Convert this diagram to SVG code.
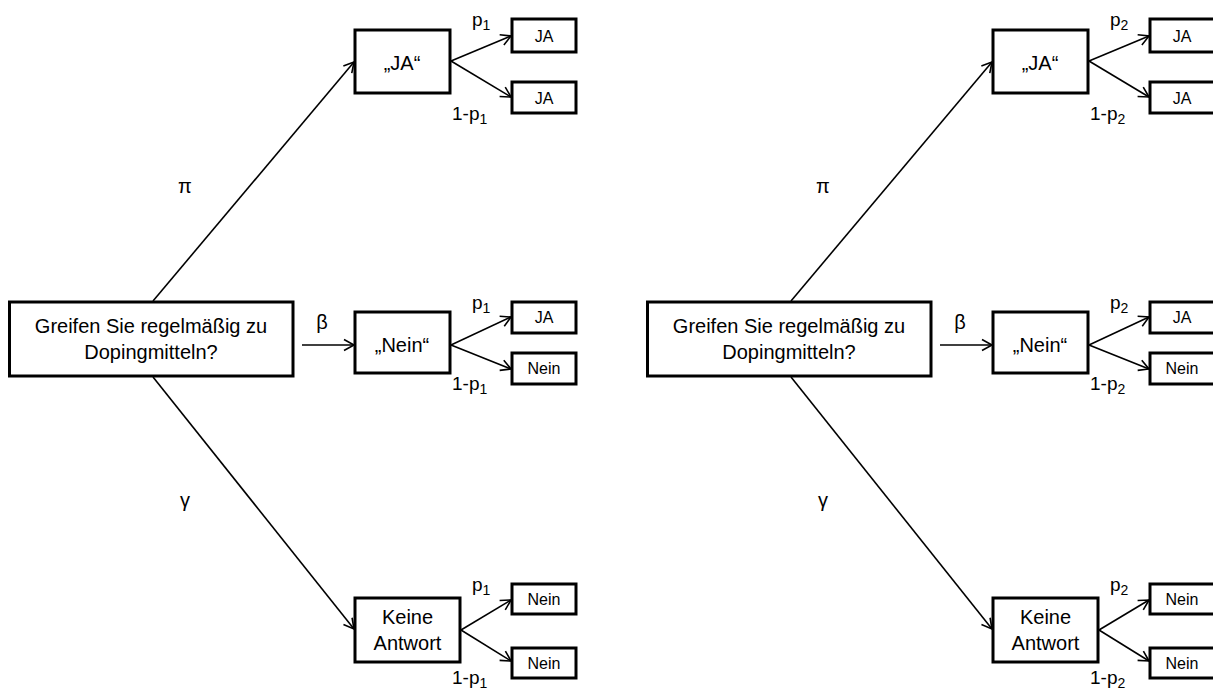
<svg xmlns="http://www.w3.org/2000/svg" width="1213" height="689" viewBox="0 0 1213 689">
  <style>
    .box { fill: #fff; stroke: #000; stroke-width: 3; }
    .t { font-family: "Liberation Sans", Arial, sans-serif; font-size: 20px; fill: #000; text-anchor: middle; }
    .s { font-family: "Liberation Sans", Arial, sans-serif; font-size: 16px; fill: #000; text-anchor: middle; }
    .lbl { font-family: "Liberation Sans", Arial, sans-serif; font-size: 19px; fill: #000; }
    .sub { font-size: 14px; }
    .c { fill: none; stroke: #000; stroke-width: 1.6; marker-end: url(#arr); }
  </style>
  <defs>
    <marker id="arr" viewBox="-12 -7 14 14" refX="0" refY="0" markerWidth="14" markerHeight="14" markerUnits="userSpaceOnUse" orient="auto" overflow="visible">
      <path d="M-10,-5.5 L0,0 L-10,5.5" fill="none" stroke="#000" stroke-width="1.6" stroke-linejoin="miter"/>
    </marker>
  </defs>
  <rect width="1213" height="689" fill="#fff"/>

  <g id="connectors">
    <!-- left panel -->
    <line class="c" x1="153" y1="301" x2="354" y2="62"/>
    <line class="c" x1="302" y1="345" x2="354" y2="345"/>
    <line class="c" x1="153" y1="377" x2="354" y2="629"/>
    <line class="c" x1="451" y1="61" x2="511" y2="36"/>
    <line class="c" x1="451" y1="61" x2="511" y2="97"/>
    <line class="c" x1="451" y1="345" x2="511" y2="317"/>
    <line class="c" x1="451" y1="345" x2="511" y2="369"/>
    <line class="c" x1="461" y1="630" x2="511" y2="600"/>
    <line class="c" x1="461" y1="630" x2="511" y2="661"/>
    <!-- right panel -->
    <line class="c" x1="791" y1="301" x2="992" y2="62"/>
    <line class="c" x1="940" y1="345" x2="992" y2="345"/>
    <line class="c" x1="791" y1="377" x2="992" y2="629"/>
    <line class="c" x1="1089" y1="61" x2="1149" y2="36"/>
    <line class="c" x1="1089" y1="61" x2="1149" y2="97"/>
    <line class="c" x1="1089" y1="345" x2="1149" y2="317"/>
    <line class="c" x1="1089" y1="345" x2="1149" y2="369"/>
    <line class="c" x1="1099" y1="630" x2="1149" y2="600"/>
    <line class="c" x1="1099" y1="630" x2="1149" y2="661"/>
  </g>

  <g id="edge-labels">
    <text class="t" x="185" y="193">π</text>
    <text class="t" x="322" y="329">β</text>
    <text class="t" x="185" y="507">γ</text>
    <text class="lbl" x="472" y="26">p<tspan class="sub" dy="4">1</tspan></text>
    <text class="lbl" x="452" y="120">1-p<tspan class="sub" dy="4">1</tspan></text>
    <text class="lbl" x="472" y="309">p<tspan class="sub" dy="4">1</tspan></text>
    <text class="lbl" x="452" y="390">1-p<tspan class="sub" dy="4">1</tspan></text>
    <text class="lbl" x="472" y="591">p<tspan class="sub" dy="4">1</tspan></text>
    <text class="lbl" x="452" y="684">1-p<tspan class="sub" dy="4">1</tspan></text>

    <text class="t" x="823" y="193">π</text>
    <text class="t" x="960" y="329">β</text>
    <text class="t" x="823" y="507">γ</text>
    <text class="lbl" x="1110" y="26">p<tspan class="sub" dy="4">2</tspan></text>
    <text class="lbl" x="1090" y="120">1-p<tspan class="sub" dy="4">2</tspan></text>
    <text class="lbl" x="1110" y="309">p<tspan class="sub" dy="4">2</tspan></text>
    <text class="lbl" x="1090" y="390">1-p<tspan class="sub" dy="4">2</tspan></text>
    <text class="lbl" x="1110" y="591">p<tspan class="sub" dy="4">2</tspan></text>
    <text class="lbl" x="1090" y="684">1-p<tspan class="sub" dy="4">2</tspan></text>
  </g>

  <!-- left panel nodes -->
  <g id="q1">
    <rect class="box" x="9.5" y="302" width="283.5" height="74"/>
    <text class="t" x="151" y="333">Greifen Sie regelmäßig zu</text>
    <text class="t" x="151" y="359">Dopingmitteln?</text>
  </g>
  <g id="ja1">
    <rect class="box" x="355" y="30" width="95" height="63"/>
    <text class="t" x="402" y="70">„JA“</text>
  </g>
  <g id="nein1">
    <rect class="box" x="355" y="312" width="95" height="61"/>
    <text class="t" x="402" y="352">„Nein“</text>
  </g>
  <g id="keine1">
    <rect class="box" x="355" y="598" width="105" height="64"/>
    <text class="t" x="407.5" y="624">Keine</text>
    <text class="t" x="407.5" y="650">Antwort</text>
  </g>
  <g id="ja1a"><rect class="box" x="512" y="19" width="64" height="33"/><text class="s" x="544" y="41.5">JA</text></g>
  <g id="ja1b"><rect class="box" x="512" y="82" width="64" height="31"/><text class="s" x="544" y="103.5">JA</text></g>
  <g id="nein1a"><rect class="box" x="512" y="302" width="64" height="31"/><text class="s" x="544" y="323">JA</text></g>
  <g id="nein1b"><rect class="box" x="512" y="353" width="64" height="31"/><text class="s" x="544" y="374">Nein</text></g>
  <g id="keine1a"><rect class="box" x="512" y="584" width="64" height="30"/><text class="s" x="544" y="604.5">Nein</text></g>
  <g id="keine1b"><rect class="box" x="512" y="648" width="64" height="30"/><text class="s" x="544" y="668.5">Nein</text></g>

  <!-- right panel nodes -->
  <g id="q2">
    <rect class="box" x="647.5" y="302" width="283.5" height="74"/>
    <text class="t" x="789" y="333">Greifen Sie regelmäßig zu</text>
    <text class="t" x="789" y="359">Dopingmitteln?</text>
  </g>
  <g id="ja2">
    <rect class="box" x="993" y="30" width="95" height="63"/>
    <text class="t" x="1040" y="70">„JA“</text>
  </g>
  <g id="nein2">
    <rect class="box" x="993" y="312" width="95" height="61"/>
    <text class="t" x="1040" y="352">„Nein“</text>
  </g>
  <g id="keine2">
    <rect class="box" x="993" y="598" width="105" height="64"/>
    <text class="t" x="1045.5" y="624">Keine</text>
    <text class="t" x="1045.5" y="650">Antwort</text>
  </g>
  <g id="ja2a"><rect class="box" x="1150" y="19" width="66" height="33"/><text class="s" x="1182" y="41.5">JA</text></g>
  <g id="ja2b"><rect class="box" x="1150" y="82" width="66" height="31"/><text class="s" x="1182" y="103.5">JA</text></g>
  <g id="nein2a"><rect class="box" x="1150" y="302" width="66" height="31"/><text class="s" x="1182" y="323">JA</text></g>
  <g id="nein2b"><rect class="box" x="1150" y="353" width="66" height="31"/><text class="s" x="1182" y="374">Nein</text></g>
  <g id="keine2a"><rect class="box" x="1150" y="584" width="66" height="30"/><text class="s" x="1182" y="604.5">Nein</text></g>
  <g id="keine2b"><rect class="box" x="1150" y="648" width="66" height="30"/><text class="s" x="1182" y="668.5">Nein</text></g>
</svg>
